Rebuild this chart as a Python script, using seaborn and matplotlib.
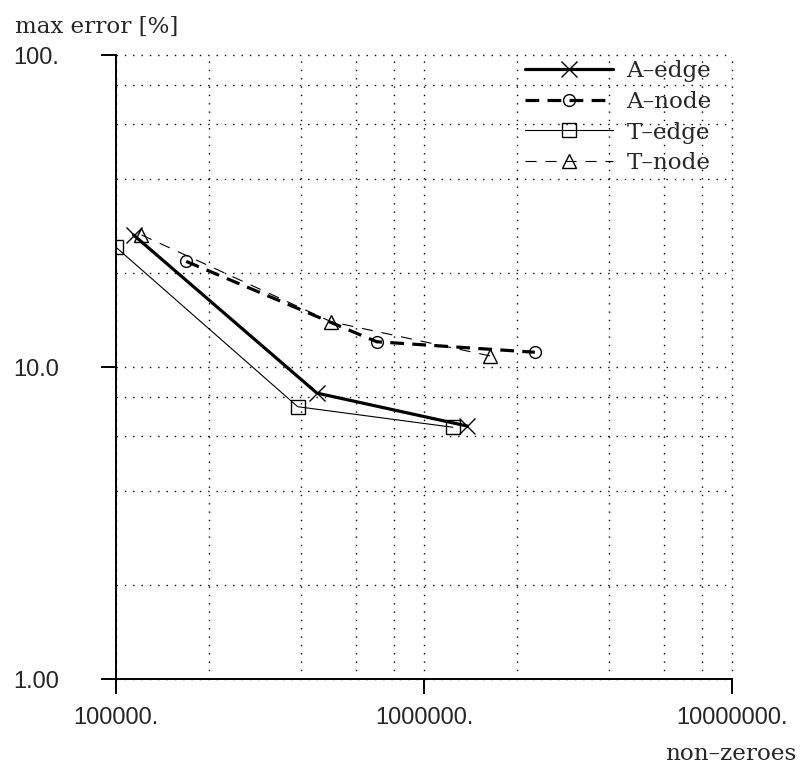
import matplotlib
matplotlib.use("Agg")
import matplotlib.pyplot as plt
from matplotlib.ticker import FixedLocator, FixedFormatter, LogLocator, NullFormatter
import pandas as pd
import seaborn as sns

# Maximum error versus number of non-zeroes for four discretisations
series_names = ["A–edge", "A–node", "T–edge", "T–node"]
a_edge_nnz = [1.14e5, 4.49e5, 1.38e6]
a_edge_err = [26.5, 8.25, 6.47]
a_node_nnz = [1.69e5, 7.02e5, 2.29e6]
a_node_err = [21.8, 12.05, 11.15]
t_edge_nnz = [1.0e5, 3.89e5, 1.24e6]
t_edge_err = [24.2, 7.46, 6.41]
t_node_nnz = [1.21e5, 4.99e5, 1.64e6]
t_node_err = [26.5, 13.97, 10.85]

x_ticks = [1e5, 1e6, 1e7]
x_tick_labels = ["100000.", "1000000.", "10000000."]
y_ticks = [1, 10, 100]
y_tick_labels = ["1.00", "10.0", "100."]
grid_subs = [2, 4, 6, 8]

frames = []
for name, xs, ys in zip(series_names,
                        [a_edge_nnz, a_node_nnz, t_edge_nnz, t_node_nnz],
                        [a_edge_err, a_node_err, t_edge_err, t_node_err]):
    frames.append(pd.DataFrame({"nnz": xs, "err": ys, "method": name}))
df = pd.concat(frames, ignore_index=True)

styles = {
    "A–edge": dict(lw=2.3, ls="-", marker="x", ms=11, mfc="none", mew=1.0),
    "A–node": dict(lw=2.3, ls=(0, (4.3, 2.6)), marker="o", ms=8.5, mfc="none", mew=1.0),
    "T–edge": dict(lw=0.8, ls="-", marker="s", ms=9.5, mfc="none", mew=1.0),
    "T–node": dict(lw=0.8, ls=(0, (10, 8)), marker="^", ms=10, mfc="none", mew=1.0),
}

sns.set_theme(style="white")
plt.rcParams["font.family"] = ["DejaVu Serif"]

fig = plt.figure(figsize=(8.0, 7.67), dpi=100)
ax = fig.add_axes([116 / 800, 1 - 679 / 767, 616 / 800, 624 / 767])

for name in series_names:
    st = styles[name]
    sns.lineplot(data=df[df["method"] == name], x="nnz", y="err", ax=ax,
                 color="black", label=name, sort=False, estimator=None,
                 linewidth=st["lw"], linestyle=st["ls"], marker=st["marker"],
                 markersize=st["ms"], markerfacecolor=st["mfc"],
                 markeredgecolor="black", markeredgewidth=st["mew"])

ax.set_xscale("log")
ax.set_yscale("log")
ax.set_xlim(1e5, 1e7)
ax.set_ylim(1, 100)

ax.xaxis.set_major_locator(FixedLocator(x_ticks))
ax.xaxis.set_major_formatter(FixedFormatter(x_tick_labels))
ax.yaxis.set_major_locator(FixedLocator(y_ticks))
ax.yaxis.set_major_formatter(FixedFormatter(y_tick_labels))
ax.xaxis.set_minor_locator(LogLocator(base=10, subs=grid_subs))
ax.yaxis.set_minor_locator(LogLocator(base=10, subs=grid_subs))
ax.xaxis.set_minor_formatter(NullFormatter())
ax.yaxis.set_minor_formatter(NullFormatter())

ax.grid(True, which="both", color="black", linestyle=(0, (1, 5)), linewidth=1.0)
ax.set_axisbelow(True)
# keep the grid lines that sit on the upper and right limits fully visible
for gl in ax.get_xgridlines() + ax.get_ygridlines():
    gl.set_clip_on(False)

for side in ["top", "right"]:
    ax.spines[side].set_visible(False)
for side in ["left", "bottom"]:
    ax.spines[side].set_color("black")
    ax.spines[side].set_linewidth(1.4)

ax.tick_params(which="major", direction="out", length=10.8, width=1.4,
               color="black", bottom=True, left=True)
ax.tick_params(which="minor", length=0)
ax.tick_params(axis="x", which="major", pad=9)
ax.tick_params(axis="y", which="major", pad=63)
for lab in ax.get_xticklabels():
    lab.set_fontfamily("Liberation Sans")
    lab.set_fontsize(17)
for lab in ax.get_yticklabels():
    lab.set_fontfamily("Liberation Sans")
    lab.set_fontsize(17)
    lab.set_horizontalalignment("left")

ax.set_xlabel("")
ax.set_ylabel("")
fig.text(15 / 800, 1 - 27 / 767, "max error [%]", fontsize=16.6,
         ha="left", va="center")
fig.text(796 / 800, 1 - 754 / 767, "non–zeroes", fontsize=16.6,
         ha="right", va="center")

ax.legend(loc="upper left", bbox_to_anchor=(525 / 800, 1 - 60 / 767),
          bbox_transform=fig.transFigure, frameon=False, fontsize=16.6,
          handlelength=3.8, handletextpad=0.6, labelspacing=0.38,
          borderpad=0, borderaxespad=0, numpoints=1)

fig.savefig("out.png", dpi=100, facecolor="white")
